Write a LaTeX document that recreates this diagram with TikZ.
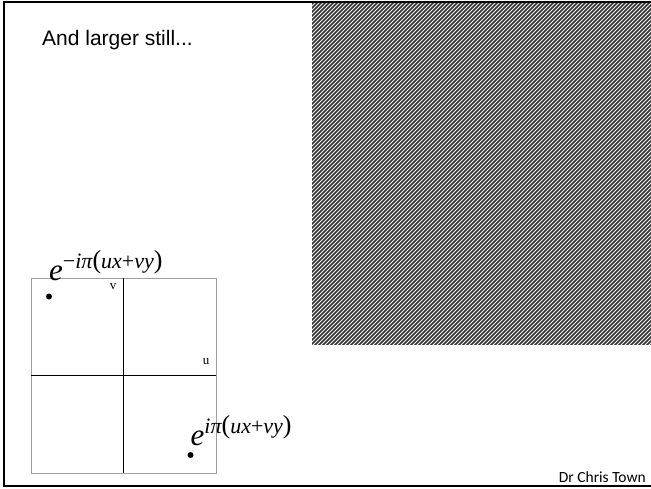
\documentclass[tikz,border=0pt]{standalone}
\usepackage{fontspec}
\setmainfont{Liberation Serif}
\newfontfamily\arialf{Liberation Sans}
\newfontfamily\calibrif{Carlito}
\newcommand{\bigE}[1]{{\fontsize{31}{31}\selectfont\itshape e}\raisebox{12pt}{\fontsize{22}{22}\selectfont #1\itshape iπ\upshape{\fontsize{26}{26}\selectfont(}\itshape ux\upshape+\itshape vy\upshape{\fontsize{26}{26}\selectfont)}}}
\begin{document}
\begin{tikzpicture}[x=1pt,y=-1pt,
  gridouter/.style={draw=gray!75, line width=0.8pt},
  gridaxis/.style={draw=black, line width=0.8pt},
  dotmark/.style={circle, fill=black, inner sep=0pt, minimum size=6pt},
  axlabel/.style={inner sep=0pt, font=\fontsize{13}{13}\selectfont},
  stripe/.style={draw=black!80, line width=1.6pt}]
\useasboundingbox (0,0) rectangle (651,488);
\fill[white] (0,0) rectangle (651,488);
% hatched square
\begin{scope}
  \clip (312,3) rectangle (652,344);
  \fill[gray!12] (312,3) rectangle (652,344);
  \foreach \c in {312,316,...,1000} \draw[stripe] (\c,0) -- (\c-400,400);
\end{scope}
% frame
\draw[line width=2pt] (4,2) rectangle (660,486);
% title
\node[anchor=base west, inner sep=0pt] (title) at (42,45) {\arialf\fontsize{21}{21}\selectfont And larger still...};
% grid
\draw[gridouter] (31,278) rectangle (216,473);
\coordinate (vt) at (123.5,278);
\coordinate (vb) at (123.5,473);
\coordinate (hl) at (31,375.5);
\coordinate (hr) at (216,375.5);
\draw[gridaxis] (vt) -- (vb);
\draw[gridaxis] (hl) -- (hr);
\node[axlabel] (v) at (113,287) {v};
\node[axlabel] (u) at (206,362) {u};
% dots
\node[dotmark] (d1) at (49,296.5) {};
\node[dotmark] (d2) at (190.5,455) {};
% formulas
\node[anchor=base west, inner sep=0pt] (f1) at (49,280) {\bigE{−}};
\node[anchor=base west, inner sep=0pt] (f2) at (190.5,445) {\bigE{}};
% footer
\node[anchor=base east, inner sep=0pt] (foot) at (646,482) {\calibrif\fontsize{15.5}{15.5}\selectfont Dr Chris Town};
\end{tikzpicture}
\end{document}
